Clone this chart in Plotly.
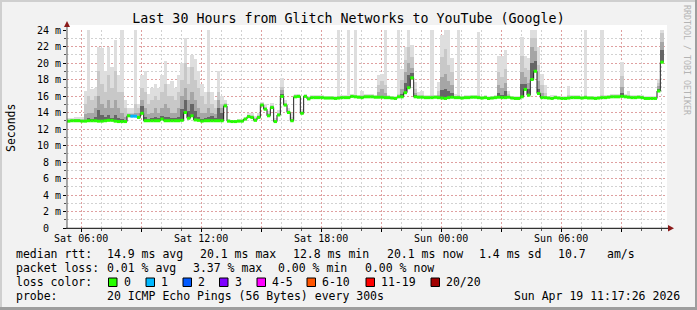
import plotly.graph_objects as go
from datetime import datetime, timedelta

# ---------------- data ----------------
start_time = datetime(2026, 4, 18, 5, 17, 26)
end_time = datetime(2026, 4, 19, 11, 17, 26)
step_minutes = 10

# median rtt per 10-minute bin (ms)
median_ms = [
    12.95, 13.0, 13.0, 13.0, 12.95, 12.95, 13.0, 13.0, 13.0, 12.95,
    12.95, 13.0, 13.05, 13.05, 12.95, 12.9, 12.9, 12.9, 13.6, 13.55,
    13.55, 13.4, 13.9, 13.0, 13.0, 13.0, 13.0, 13.0, 13.2, 13.0,
    13.0, 13.0, 13.0, 13.0, 13.05, 14.0, 13.3, 13.6, 13.1, 13.05,
    12.95, 13.0, 13.0, 13.0, 13.0, 13.0, 13.0, 14.8, 12.95, 12.9,
    12.9, 12.95, 12.95, 13.2, 13.5, 13.4, 13.05, 13.4, 14.9, 14.4,
    13.6, 14.6, 12.9, 13.7, 15.95, 14.9, 14.0, 13.0, 15.9, 15.95,
    13.9, 15.95, 15.65, 15.8, 15.8, 15.8, 15.8, 15.75, 15.75, 15.75,
    15.7, 15.75, 15.8, 15.8, 15.8, 15.95, 15.9, 15.85, 15.8, 15.9,
    15.9, 15.9, 15.85, 15.85, 15.85, 15.8, 15.8, 15.75, 15.7, 15.9,
    15.9, 16.4, 17.0, 18.2, 15.9, 15.85, 15.85, 15.8, 15.8, 15.8,
    15.85, 15.8, 15.75, 15.7, 15.8, 15.85, 15.8, 15.8, 15.75, 15.8,
    15.8, 15.85, 15.85, 15.8, 15.75, 15.8, 15.7, 15.75, 15.8, 15.85,
    15.8, 15.8, 15.85, 15.75, 15.7, 15.7, 15.9, 16.8, 16.1, 18.0,
    19.0, 16.3, 15.8, 15.8, 15.75, 15.7, 15.8, 15.75, 15.7, 15.7,
    15.75, 15.8, 15.8, 15.8, 15.75, 15.8, 15.75, 15.75, 15.7, 15.75,
    15.8, 15.8, 15.85, 15.9, 15.9, 15.9, 15.95, 15.9, 15.85, 15.8,
    15.8, 15.85, 15.8, 15.7, 15.7, 15.7, 15.7, 16.6, 20.1, None,
]

# smoke: how far (ms) each ping-density layer reaches above the median
smoke_light = [
    0.35, 0.3, 0.4, 0.5, 0.45, 3.65, 11.5, 3.8, 4.0, 9.05,
    8.85, 6.0, 8.95, 6.45, 9.85, 5.6, 11.6, 2.6, 0.9, 0.95,
    11.0, 1.6, 4.6, 6.0, 3.3, 4.0, 4.5, 4.0, 5.3, 7.3,
    4.5, 4.8, 4.0, 5.5, 6.95, 9.0, 6.2, 7.4, 7.4, 5.95,
    4.55, 3.5, 11.5, 3.5, 2.5, 6.0, 3.0, 0.7, 0.25, 0.2,
    0.2, 0.25, 0.25, 0.3, 0.4, 0.5, 0.55, 0.5, 0.4, 0.6,
    0.6, 0.6, 0.4, 0.6, 2.25, 0.6, 0.5, 1.0, 0.35, 0.35,
    0.5, 0.25, 0.35, 0.3, 0.3, 0.3, 0.3, 0.25, 0.25, 0.25,
    0.3, 8.75, 0.3, 0.3, 8.7, 0.25, 8.6, 0.25, 0.8, 0.3,
    0.3, 0.3, 0.3, 2.65, 2.85, 8.7, 0.3, 0.3, 0.3, 8.6,
    3.4, 5.6, 7.5, 4.0, 1.8, 0.6, 0.75, 0.3, 0.3, 8.7,
    0.3, 1.9, 7.6, 8.8, 8.7, 4.8, 0.5, 8.7, 0.3, 0.3,
    0.3, 0.3, 0.3, 8.0, 0.3, 0.3, 0.3, 0.3, 0.3, 5.0,
    5.0, 5.8, 0.7, 0.3, 0.3, 0.3, 7.3, 4.0, 4.5, 7.0,
    5.5, 5.7, 2.9, 1.5, 0.3, 0.4, 0.3, 0.3, 0.3, 0.3,
    1.5, 0.3, 0.3, 0.3, 0.3, 8.7, 0.3, 0.3, 0.3, 0.3,
    8.7, 0.3, 0.3, 0.3, 0.3, 0.3, 4.2, 0.3, 0.7, 0.3,
    0.3, 0.3, 0.3, 0.3, 0.3, 0.3, 0.3, 1.5, 4.0, None,
]
smoke_mid = [
    0.15, 0.1, 0.2, 0.2, 0.25, 2.05, 3.0, 2.5, 3.0, 6.05,
    4.55, 3.5, 5.45, 3.95, 6.05, 3.6, 3.6, 1.6, 0.4, 0.45,
    1.45, 1.1, 3.1, 3.5, 2.0, 2.5, 3.0, 2.5, 3.3, 4.5,
    3.0, 3.0, 2.5, 3.5, 4.95, 6.0, 4.2, 5.9, 4.9, 3.95,
    3.05, 2.0, 3.5, 2.0, 1.5, 3.5, 2.0, 0.4, 0.1, 0.1,
    0.1, 0.1, 0.1, 0.15, 0.2, 0.25, 0.3, 0.25, 0.2, 0.3,
    0.3, 0.3, 0.2, 0.3, 1.1, 0.3, 0.25, 0.5, 0.15, 0.15,
    0.25, 0.12, 0.15, 0.12, 0.12, 0.12, 0.12, 0.12, 0.12, 0.12,
    0.12, 0.2, 0.12, 0.12, 0.2, 0.12, 0.2, 0.12, 0.3, 0.12,
    0.12, 0.12, 0.12, 1.45, 2.0, 1.5, 0.12, 0.12, 0.12, 0.3,
    2.0, 4.0, 5.0, 2.5, 1.0, 0.3, 0.3, 0.12, 0.12, 0.3,
    0.12, 0.8, 5.0, 6.0, 4.0, 3.0, 0.25, 0.3, 0.12, 0.12,
    0.12, 0.12, 0.12, 0.3, 0.12, 0.12, 0.12, 0.12, 0.12, 3.0,
    2.5, 3.5, 0.4, 0.12, 0.12, 0.12, 5.0, 2.6, 3.0, 5.0,
    4.0, 3.5, 1.5, 0.6, 0.12, 0.2, 0.12, 0.12, 0.12, 0.12,
    0.4, 0.12, 0.12, 0.12, 0.12, 0.3, 0.12, 0.12, 0.12, 0.12,
    0.3, 0.12, 0.12, 0.12, 0.12, 0.12, 2.5, 0.12, 0.3, 0.12,
    0.12, 0.12, 0.12, 0.12, 0.12, 0.12, 0.12, 1.0, 3.5, None,
]
smoke_dark = [
    0.05, 0.0, 0.1, 0.1, 0.05, 0.85, 1.0, 1.0, 1.5, 3.05,
    2.05, 1.5, 2.45, 1.45, 2.55, 1.6, 1.1, 0.6, 0.2, 0.25,
    0.45, 0.6, 1.6, 1.5, 0.8, 1.0, 1.5, 1.0, 1.3, 2.0,
    1.5, 1.0, 1.0, 1.5, 2.95, 3.0, 2.2, 2.9, 2.4, 1.45,
    1.05, 1.0, 1.5, 1.0, 0.8, 2.5, 1.5, 0.2, 0.0, 0.0,
    0.0, 0.0, 0.0, 0.0, 0.1, 0.1, 0.1, 0.1, 0.1, 0.1,
    0.1, 0.1, 0.0, 0.1, 0.8, 0.1, 0.1, 0.2, 0.0, 0.0,
    0.0, 0.0, 0.0, 0.0, 0.0, 0.0, 0.0, 0.0, 0.0, 0.0,
    0.0, 0.0, 0.0, 0.0, 0.0, 0.0, 0.0, 0.0, 0.1, 0.0,
    0.0, 0.0, 0.0, 0.6, 1.0, 0.6, 0.0, 0.0, 0.0, 0.0,
    1.0, 2.5, 3.0, 1.2, 0.5, 0.0, 0.0, 0.0, 0.0, 0.0,
    0.0, 0.3, 2.5, 3.0, 2.0, 1.5, 0.0, 0.0, 0.0, 0.0,
    0.0, 0.0, 0.0, 0.0, 0.0, 0.0, 0.0, 0.0, 0.0, 1.5,
    1.2, 1.8, 0.0, 0.0, 0.0, 0.0, 3.0, 1.5, 1.5, 4.0,
    2.5, 1.5, 0.6, 0.0, 0.0, 0.0, 0.0, 0.0, 0.0, 0.0,
    0.0, 0.0, 0.0, 0.0, 0.0, 0.0, 0.0, 0.0, 0.0, 0.0,
    0.0, 0.0, 0.0, 0.0, 0.0, 0.0, 1.2, 0.0, 0.0, 0.0,
    0.0, 0.0, 0.0, 0.0, 0.0, 0.0, 0.0, 0.6, 2.5, None,
]
smoke_core = [
    0.0, 0.0, 0.0, 0.0, 0.0, 0.2, 0.3, 0.2, 0.4, 1.3,
    0.8, 0.4, 0.6, 0.3, 0.8, 0.4, 0.3, 0.1, 0.0, 0.0,
    0.1, 0.1, 0.9, 0.4, 0.2, 0.3, 0.4, 0.3, 0.4, 0.5,
    0.4, 0.3, 0.3, 0.4, 1.4, 1.5, 0.9, 1.4, 1.1, 0.4,
    0.3, 0.3, 0.4, 0.6, 0.3, 1.5, 1.0, 0.0, 0.0, 0.0,
    0.0, 0.0, 0.0, 0.0, 0.0, 0.0, 0.0, 0.0, 0.0, 0.0,
    0.0, 0.0, 0.0, 0.0, 0.3, 0.0, 0.0, 0.0, 0.0, 0.0,
    0.0, 0.0, 0.0, 0.0, 0.0, 0.0, 0.0, 0.0, 0.0, 0.0,
    0.0, 0.0, 0.0, 0.0, 0.0, 0.0, 0.0, 0.0, 0.0, 0.0,
    0.0, 0.0, 0.0, 0.0, 0.0, 0.0, 0.0, 0.0, 0.0, 0.0,
    0.4, 1.2, 1.5, 0.6, 0.2, 0.0, 0.0, 0.0, 0.0, 0.0,
    0.0, 0.0, 1.0, 1.2, 0.8, 0.5, 0.0, 0.0, 0.0, 0.0,
    0.0, 0.0, 0.0, 0.0, 0.0, 0.0, 0.0, 0.0, 0.0, 0.5,
    0.3, 0.8, 0.0, 0.0, 0.0, 0.0, 1.5, 0.6, 0.7, 2.0,
    1.2, 0.5, 0.0, 0.0, 0.0, 0.0, 0.0, 0.0, 0.0, 0.0,
    0.0, 0.0, 0.0, 0.0, 0.0, 0.0, 0.0, 0.0, 0.0, 0.0,
    0.0, 0.0, 0.0, 0.0, 0.0, 0.0, 0.4, 0.0, 0.0, 0.0,
    0.0, 0.0, 0.0, 0.0, 0.0, 0.0, 0.0, 0.3, 1.5, None,
]

# pings lost per bin (all other bins: 0 lost)
lost_pings = {19: 1, 20: 1}

x_tickvals = ["2026-04-18 06:00", "2026-04-18 09:00", "2026-04-18 12:00",
              "2026-04-18 15:00", "2026-04-18 18:00", "2026-04-18 21:00",
              "2026-04-19 00:00", "2026-04-19 03:00", "2026-04-19 06:00",
              "2026-04-19 09:00"]
x_ticktext = ["Sat 06:00", "", "Sat 12:00", "", "Sat 18:00", "",
              "Sun 00:00", "", "Sun 06:00", ""]
y_tickvals = [0, 2, 4, 6, 8, 10, 12, 14, 16, 18, 20, 22, 24]
y_ticktext = ["0\u00a0\u00a0", "2 m", "4 m", "6 m", "8 m", "10 m", "12 m",
              "14 m", "16 m", "18 m", "20 m", "22 m", "24 m"]

loss_labels = ["0", "1", "2", "3", "4-5", "6-10", "11-19", "20/20"]
loss_colors = ["#26ff00", "#00b8ff", "#0059ff", "#7e00ff", "#ff00ff",
               "#ff5500", "#ff0000", "#a10000"]

title_text = "Last 30 Hours from Glitch Networks to YouTube (Google)"
rtt_stats = ["14.9 ms avg", "20.1 ms max", "12.8 ms min", "20.1 ms now",
             "1.4 ms sd", "10.7", "am/s"]
loss_stats = ["0.01 % avg", "3.37 % max", "0.00 % min", "0.00 % now"]
probe_text = "20 ICMP Echo Pings (56 Bytes) every 300s"
stamp_text = "Sun Apr 19 11:17:26 2026"
watermark = "RRDTOOL / TOBI OETIKER"

# ---------------- layout helpers (pixel -> paper) ----------------
W, H = 697, 310
PL, PR, PT, PB = 67, 667, 30, 228


def fx(px):
    return (px - PL) / (PR - PL)


def fy(py):
    return (PB - py) / (PB - PT)


MONO = "DejaVu Sans Mono"
step = timedelta(minutes=step_minutes)
n = len(median_ms)
t_start = [start_time + i * step for i in range(n)]
t_mid = [start_time + (i + 0.5) * step for i in range(n)]
bar_w = step_minutes * 60 * 1000

fig = go.Figure()

smoke_layers = [smoke_light, smoke_mid, smoke_dark, smoke_core]
smoke_colors = ["#dedede", "#c8c8c8", "#a6a6a6", "#666666"]
for rise, col in zip(smoke_layers, smoke_colors):
    fig.add_trace(go.Bar(
        x=t_mid, y=rise, base=median_ms, width=bar_w,
        marker=dict(color=col, line=dict(width=0)),
        hoverinfo="skip", showlegend=False))

valid = [i for i, m in enumerate(median_ms) if m is not None]
sx = [t_start[i] for i in valid] + [t_start[valid[-1]] + step]
sy = [median_ms[i] for i in valid] + [median_ms[valid[-1]]]
fig.add_trace(go.Scatter(x=sx, y=sy, mode="lines",
                         line=dict(color="#202020", width=1, shape="hv"),
                         hoverinfo="skip", showlegend=False))

for level, col in [(0, loss_colors[0]), (1, loss_colors[1])]:
    xs, ys = [], []
    for i in valid:
        if lost_pings.get(i, 0) == level:
            xs += [t_start[i], t_start[i] + step, None]
            ys += [median_ms[i], median_ms[i], None]
    fig.add_trace(go.Scatter(x=xs, y=ys, mode="lines",
                             line=dict(color=col, width=3),
                             hoverinfo="skip", showlegend=False))

shapes = []
# white canvas extension above the top gridline
shapes.append(dict(type="rect", xref="paper", yref="paper",
                   x0=fx(PL), x1=fx(PR), y0=fy(PT), y1=fy(25),
                   fillcolor="#ffffff", line=dict(width=0), layer="below"))
# axes lines and arrows
shapes.append(dict(type="line", xref="paper", yref="paper",
                   x0=fx(67), x1=fx(67), y0=fy(228), y1=fy(25),
                   line=dict(color="#555555", width=1)))
shapes.append(dict(type="line", xref="paper", yref="paper",
                   x0=fx(66), x1=fx(669), y0=fy(228.3), y1=fy(228.3),
                   line=dict(color="#000000", width=1)))
shapes.append(dict(type="path", xref="paper", yref="paper",
                   path=f"M {fx(64)} {fy(27)} L {fx(67)} {fy(21)} L {fx(70)} {fy(27)} Z",
                   fillcolor="#8b1a1a", line=dict(width=0)))
shapes.append(dict(type="path", xref="paper", yref="paper",
                   path=f"M {fx(668)} {fy(225)} L {fx(674)} {fy(228.3)} L {fx(668)} {fy(231.6)} Z",
                   fillcolor="#8b1a1a", line=dict(width=0)))
# image frame
shapes.append(dict(type="rect", xref="paper", yref="paper",
                   x0=fx(0), x1=fx(697), y0=fy(0), y1=fy(2),
                   fillcolor="#cfcfcf", line=dict(width=0)))
shapes.append(dict(type="rect", xref="paper", yref="paper",
                   x0=fx(0), x1=fx(2), y0=fy(0), y1=fy(310),
                   fillcolor="#cfcfcf", line=dict(width=0)))
shapes.append(dict(type="rect", xref="paper", yref="paper",
                   x0=fx(0), x1=fx(697), y0=fy(307), y1=fy(310),
                   fillcolor="#9e9e9e", line=dict(width=0)))
shapes.append(dict(type="rect", xref="paper", yref="paper",
                   x0=fx(695), x1=fx(697), y0=fy(0), y1=fy(310),
                   fillcolor="#9e9e9e", line=dict(width=0)))

annotations = []


def txt(px, py, s, size=11.5, color="#000000", angle=0, anchor="left"):
    annotations.append(dict(
        x=fx(px), y=fy(py), xref="paper", yref="paper", text=s,
        showarrow=False, xanchor=anchor, yanchor="middle",
        borderpad=0, borderwidth=0, textangle=angle,
        font=dict(family=MONO, size=size, color=color)))


# row 1: median rtt
txt(16, 254, "median rtt:")
for s, px in zip(rtt_stats, [107, 200, 293, 387, 479, 558, 607]):
    txt(px, 254, s)
# row 2: packet loss
txt(16, 268, "packet loss:")
for s, px in zip(loss_stats, [107, 193, 278, 365]):
    txt(px, 268, s)
# row 3: loss colours
txt(16, 282, "loss color:")
box_x = [108.5, 146, 183, 219.5, 257, 307, 366, 431]
for lab, col, bx in zip(loss_labels, loss_colors, box_x):
    shapes.append(dict(type="rect", xref="paper", yref="paper",
                       x0=fx(bx), x1=fx(bx + 8.5), y0=fy(278), y1=fy(286.5),
                       fillcolor=col, line=dict(color="#000000", width=1)))
    txt(bx + 15, 282, lab)
# row 4: probe
txt(16, 296, "probe:")
txt(107, 296, probe_text)
txt(680, 296, stamp_text, anchor="right")
# y title, watermark
txt(11, 128, "Seconds", angle=-90, anchor="center")
txt(687, 60, watermark, size=8.3, color="#b4b4b4", angle=90, anchor="center")

grid_red = "rgba(240,100,100,0.45)"
grid_grey = "#d2d2d2"

fig.update_layout(
    width=W, height=H,
    margin=dict(l=PL, r=W - PR, t=PT, b=H - PB, pad=0),
    paper_bgcolor="#f2f2f2", plot_bgcolor="#ffffff",
    barmode="overlay", bargap=0, showlegend=False, hovermode=False,
    font=dict(family=MONO, size=10, color="#000000"),
    title=dict(text=title_text, x=0.5, xref="container", xanchor="center",
               y=1 - 18 / H, yref="container", yanchor="middle",
               font=dict(family=MONO, size=13.3, color="#000000")),
    xaxis=dict(type="date", range=[start_time, end_time],
               tickmode="array", tickvals=x_tickvals, ticktext=x_ticktext,
               showgrid=True, gridcolor=grid_red, griddash="2px,2px", gridwidth=1,
               ticks="outside", ticklen=3, tickcolor="#000000",
               ticklabelstandoff=-2,
               showline=False, zeroline=False, fixedrange=True,
               tickfont=dict(family=MONO, size=10),
               minor=dict(dtick=3600000, tick0="2026-04-18 00:00",
                          showgrid=True, gridcolor=grid_grey, griddash="2px,2px",
                          ticks="outside", ticklen=2, tickcolor="#555555")),
    yaxis=dict(range=[0, 24], tickmode="array", tickvals=y_tickvals,
               ticktext=y_ticktext,
               showgrid=True, gridcolor=grid_red, griddash="2px,2px", gridwidth=1,
               ticks="outside", ticklen=3, tickcolor="#000000",
               showline=False, zeroline=False, fixedrange=True,
               tickfont=dict(family=MONO, size=10),
               minor=dict(dtick=1, tick0=0, showgrid=True, gridcolor=grid_grey,
                          griddash="2px,2px", ticks="outside", ticklen=2,
                          tickcolor="#555555")),
    shapes=shapes, annotations=annotations,
)

fig.write_html("out.html")
